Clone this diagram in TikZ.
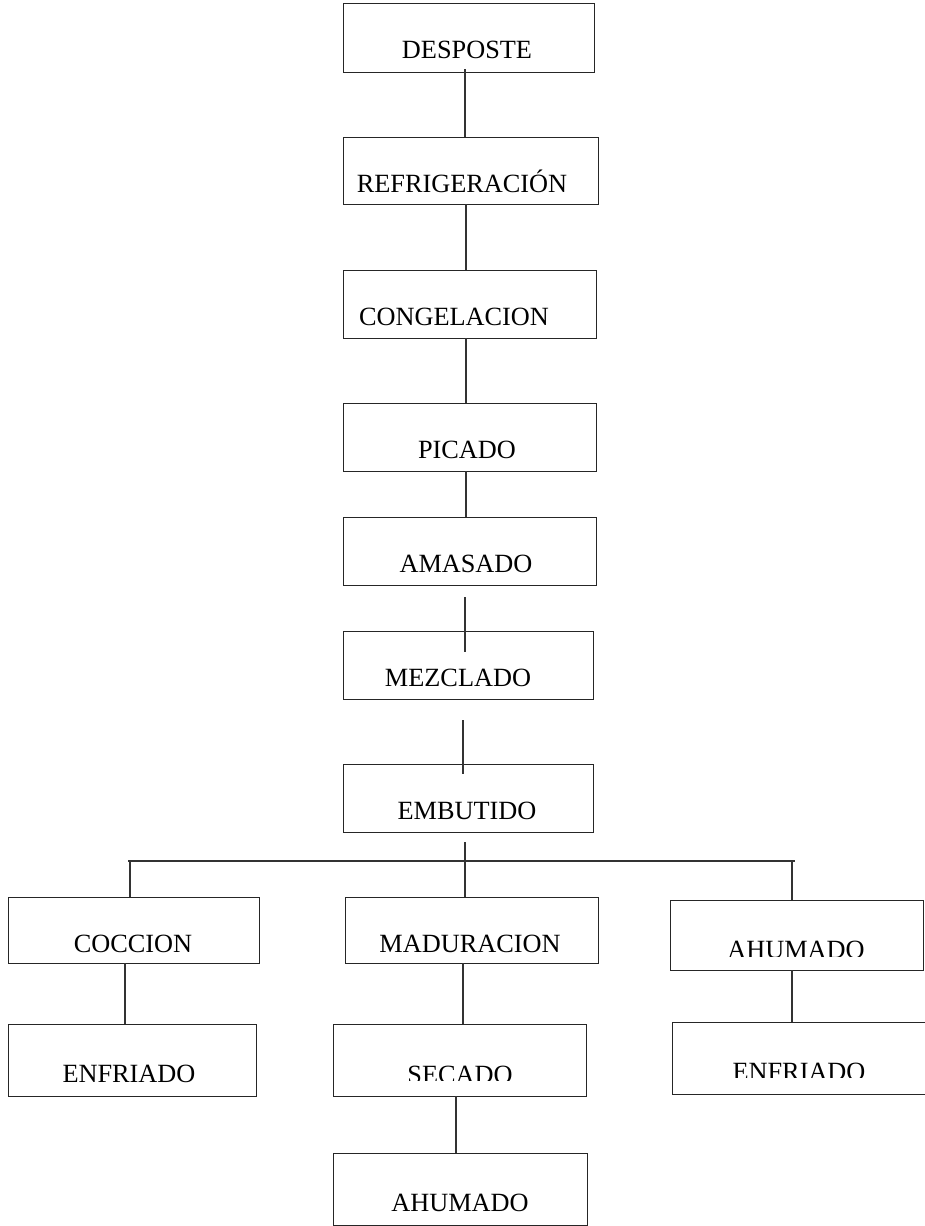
\documentclass[tikz,border=0pt]{standalone}
\usepackage{fontspec}
\setmainfont{Liberation Serif}
\begin{document}
\begin{tikzpicture}[x=1pt,y=-1pt,
  box/.style={draw=black!85, line width=1pt, inner sep=0pt, outer sep=0pt, anchor=north west},
  lbl/.style={inner sep=0pt, anchor=base, font=\fontsize{26.3}{30}\selectfont},
  conn/.style={draw=black!80, line width=1.1pt}]
\useasboundingbox (0,0) rectangle (925,1226);
% boxes
\node[box, minimum width=251, minimum height=69] (desposte) at (343,3) {};
\node[box, minimum width=255, minimum height=67] (refrig) at (343,137) {};
\node[box, minimum width=253, minimum height=68] (congel) at (343,270) {};
\node[box, minimum width=253, minimum height=68] (picado) at (343,403) {};
\node[box, minimum width=253, minimum height=68] (amasado) at (343,517) {};
\node[box, minimum width=250, minimum height=68] (mezclado) at (343,631) {};
\node[box, minimum width=250, minimum height=68] (embutido) at (343,764) {};
\node[box, minimum width=251, minimum height=66] (coccion) at (8,897) {};
\node[box, minimum width=253, minimum height=66] (madur) at (345,897) {};
\node[box, minimum width=253, minimum height=70] (ahumadoR) at (670,900) {};
\node[box, minimum width=248, minimum height=72] (enfriadoL) at (8,1024) {};
\node[box, minimum width=253, minimum height=72] (secado) at (333,1024) {};
\node[box, minimum width=260, minimum height=72] (enfriadoR) at (672,1022) {};
\node[box, minimum width=254, minimum height=72] (ahumadoB) at (333,1153) {};
% labels
\node[lbl] (t1) at (467,58) {DESPOSTE};
\node[lbl] (t2) at (462,192) {REFRIGERACIÓN};
\node[lbl] (t3) at (454,325) {CONGELACION};
\node[lbl] (t4) at (467,458) {PICADO};
\node[lbl] (t5) at (466,572) {AMASADO};
\node[lbl] (t6) at (458,686) {MEZCLADO};
\node[lbl] (t7) at (467,819) {EMBUTIDO};
\node[lbl] (t8) at (133,952) {COCCION};
\node[lbl] (t9) at (470,952) {MADURACION};
\begin{scope}
\clip (600,900) rectangle (925,956);
\node[lbl] (t10) at (796,958) {AHUMADO};
\end{scope}
\node[lbl] (t11) at (129,1082) {ENFRIADO};
\begin{scope}
\clip (333,1024) rectangle (586,1080);
\node[lbl] (t12) at (460,1083) {SECADO};
\end{scope}
\begin{scope}
\clip (672,1022) rectangle (925,1077);
\node[lbl] (t13) at (799,1080) {ENFRIADO};
\end{scope}
\node[lbl] (t14) at (460,1211) {AHUMADO};
% connectors
\coordinate (barL) at (128,861);
\coordinate (barR) at (795,861);
\draw[conn] (desposte.south -| 465,0) ++(0,-3) -- (refrig.north -| 465,0);
\draw[conn] (refrig.south -| 466,0) -- (congel.north -| 466,0);
\draw[conn] (congel.south -| 466,0) -- (picado.north -| 466,0);
\draw[conn] (picado.south -| 466,0) -- (amasado.north -| 466,0);
\draw[conn] ([yshift=-12]amasado.south -| 465,0) -- ([yshift=-21]mezclado.north -| 465,0);
\draw[conn] ([yshift=-21]mezclado.south -| 463,0) -- ([yshift=-10]embutido.north -| 463,0);
\draw[conn] ([yshift=-10]embutido.south -| 465,0) -- (madur.north -| 465,0);
\draw[conn] (barL) -- (barR);
\draw[conn] (barL -| 130,0) -- (coccion.north -| 130,0);
\draw[conn] (barR -| 792,0) -- (ahumadoR.north -| 792,0);
\draw[conn] (coccion.south -| 125,0) -- (enfriadoL.north -| 125,0);
\draw[conn] (madur.south -| 463,0) -- (secado.north -| 463,0);
\draw[conn] (ahumadoR.south -| 792,0) -- (enfriadoR.north -| 792,0);
\draw[conn] (secado.south -| 456,0) -- (ahumadoB.north -| 456,0);
\end{tikzpicture}
\end{document}
